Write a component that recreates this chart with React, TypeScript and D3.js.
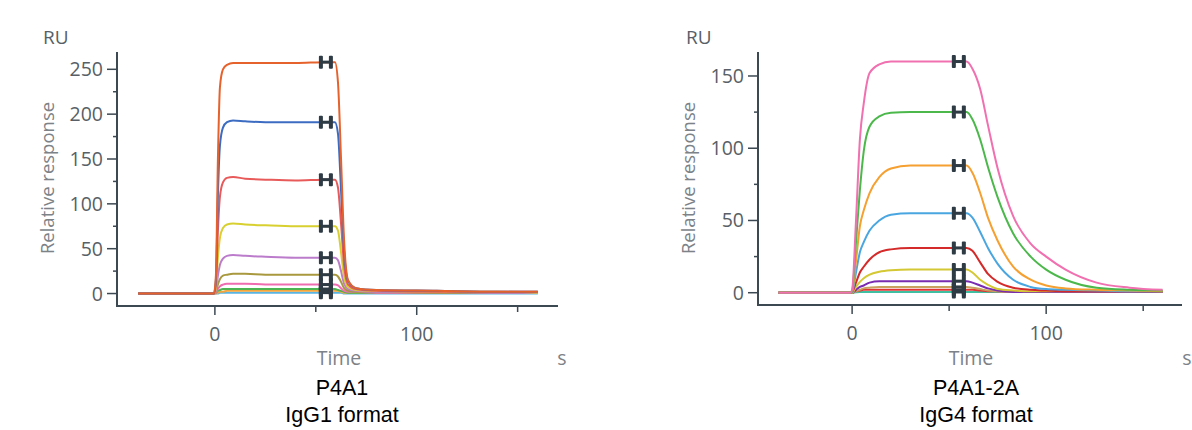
import React from "react";
import * as d3 from "d3";

// ---------- DATA ----------
// Left panel: P4A1 (IgG1) sensorgram, time (s)
const timeL = [-38, -0.5, 0.5, 1.5, 2.5, 4, 6, 9, 15, 25, 40, 55, 59.5, 61, 62.5, 64, 66, 70, 80, 110, 140, 160];
const seriesL: { name: string; color: string; values: number[] }[] = [
  { name: "c10", color: "#5ab4e2", values: [0, 0, 0, 0, 1, 1, 1, 1, 1, 1, 1, 1, 1, 1, 1, 0, 0, 0, 0, 0, 0, 0] },
  { name: "c9", color: "#f2a63c", values: [0, 0, 0, 1, 2, 2, 3, 3, 3, 3, 3, 3, 3, 3, 2, 1, 1, 1, 1, 1, 1, 1] },
  { name: "c8", color: "#4cb450", values: [0, 0, 1, 3, 4, 5, 5, 5, 5, 5, 5, 5, 5, 4, 3, 2, 1, 1, 1, 1, 1, 1] },
  { name: "c7", color: "#f06cb0", values: [0, 0, 1, 5, 8, 10, 11, 11, 11, 10, 10, 10, 10, 9, 6, 3, 2, 2, 1, 1, 1, 1] },
  { name: "c6", color: "#a8983e", values: [0, 0, 2, 10, 16, 20, 21, 22, 22, 21, 21, 21, 21, 19, 13, 6, 3, 2, 2, 1, 1, 1] },
  { name: "c5", color: "#bc7ccc", values: [0, 0, 3, 20, 32, 39, 42, 43, 42, 41, 40, 40, 40, 37, 25, 11, 5, 3, 2, 2, 1, 1] },
  { name: "c4", color: "#d8d030", values: [0, 0, 6, 40, 62, 73, 77, 78, 77, 76, 75, 75, 75, 70, 46, 19, 7, 4, 3, 2, 2, 1] },
  { name: "c3", color: "#e85a5a", values: [0, 0, 10, 70, 108, 124, 129, 130, 128, 127, 126, 127, 127, 118, 78, 32, 10, 5, 3, 2, 2, 2] },
  { name: "c2", color: "#3c6cc2", values: [0, 0, 15, 110, 165, 185, 191, 193, 192, 191, 191, 191, 191, 178, 115, 48, 14, 6, 4, 3, 2, 2] },
  { name: "c1", color: "#e6622c", values: [0, 0, 20, 150, 230, 250, 255, 257, 257, 257, 257, 258, 258, 235, 150, 60, 15, 6, 4, 3, 2, 2] },
];

// Right panel: P4A1-2A (IgG4) sensorgram
const timeR = [-38, -1, 0, 2, 4, 6, 9, 14, 20, 30, 45, 55, 59, 62, 66, 70, 75, 83, 92, 100, 110, 126, 143, 160];
const seriesR: { name: string; color: string; values: number[] }[] = [
  { name: "c10", color: "#40c0a0", values: [0, 0, 0, 0.3, 0.5, 0.5, 0.5, 0.5, 0.5, 0.5, 0.5, 0.5, 0.5, 0.5, 0.5, 0.5, 0.5, 0.5, 0.5, 0.5, 0.5, 0.5, 0.5, 0.5] },
  { name: "c9", color: "#e03434", values: [0, 0, 0, 1, 1.5, 2, 2, 2, 2, 2, 2, 2, 2, 2, 1.5, 1, 1, 0.5, 0.5, 0.5, 0.5, 0.5, 0.5, 0.5] },
  { name: "c8", color: "#c8a060", values: [0, 0, 0, 1, 2, 3, 3.5, 4, 4, 4, 4, 4, 4, 3.5, 2.5, 1.5, 1, 0.5, 0.5, 0.5, 0.5, 0.5, 0.5, 0.5] },
  { name: "c7", color: "#7a2cb0", values: [0, 0, 0, 2, 4, 5, 7, 8, 8, 8, 8, 8, 8, 7, 5, 3, 1.5, 0.5, 0.5, 0.5, 0.5, 0.5, 0.5, 0.5] },
  { name: "c6", color: "#d4c834", values: [0, 0, 0, 4, 7.5, 10, 12.5, 14.5, 15.5, 16, 16, 16, 16, 14, 9, 5.5, 2.5, 1.5, 1, 1, 1, 1, 1, 1] },
  { name: "c5", color: "#d42a2a", values: [0, 0, 0.5, 7, 14, 18, 23, 28, 30, 31, 31, 31, 31, 29, 21, 13, 7.5, 3.5, 2, 1.5, 1, 1, 1, 1] },
  { name: "c4", color: "#4aa6e0", values: [0, 0, 0.5, 14, 28, 35, 43, 50, 54, 55, 55, 55, 55, 52, 42, 31, 20, 9, 4, 2.5, 2, 1.5, 1, 1] },
  { name: "c3", color: "#f5a030", values: [0, 0, 1, 22, 46, 57, 69, 80, 86, 88, 88, 88, 88, 83, 69, 52, 36, 18, 9, 5, 3, 2, 1.5, 1] },
  { name: "c2", color: "#4cb84c", values: [0, 0, 1, 35, 71, 98, 115, 122, 124.5, 125, 125, 125, 125, 120, 106, 87, 66, 41, 25, 16, 9, 3.5, 2, 1.5] },
  { name: "c1", color: "#f070b0", values: [0, 0, 2, 50, 106, 131, 152, 158, 160, 160, 160, 160, 160, 155, 141, 116, 86, 53, 34, 25, 16, 7, 3.5, 2] },
];

const markerTime = 55;
const yTicksL = [0, 50, 100, 150, 200, 250];
const yMinorL = [25, 75, 125, 175, 225];
const yTicksR = [0, 50, 100, 150];
const yMinorR = [25, 75, 125];
const xTicks = [0, 100];
const xMinor = [50, 150];
const titlesL = ["P4A1", "IgG1 format"];
const titlesR = ["P4A1-2A", "IgG4 format"];

// ---------- LAYOUT ----------
type Panel = {
  times: number[];
  series: { name: string; color: string; values: number[] }[];
  xDomain: [number, number];
  xRange: [number, number];
  yDomain: [number, number];
  yRange: [number, number];
  yTicks: number[];
  yMinor: number[];
  titles: string[];
  titleX: number;
  ylabelX: number;
  ruX: number;
  timeX: number;
  sX: number;
};

const panels: Panel[] = [
  {
    times: timeL, series: seriesL,
    xDomain: [-48.5, 170], xRange: [117, 558],
    yDomain: [-13.9, 269.3], yRange: [306, 52],
    yTicks: yTicksL, yMinor: yMinorL, titles: titlesL,
    titleX: 342, ylabelX: 47.5, ruX: 43, timeX: 339, sX: 562,
  },
  {
    times: timeR, series: seriesR,
    xDomain: [-48.5, 170], xRange: [758, 1182],
    yDomain: [-8.5, 166.6], yRange: [305, 52],
    yTicks: yTicksR, yMinor: yMinorR, titles: titlesR,
    titleX: 976, ylabelX: 689, ruX: 686, timeX: 971, sX: 1187,
  },
];

const AXIS = "#3c4852";
const TICKTXT = "#585f66";
const LABELTXT = "#7c8287";
const MARK = "#2e3a44";
const FONT = "'Open Sans', 'DejaVu Sans', sans-serif";

function HMarker({ x, y }: { x: number; y: number }) {
  return (
    <g transform={`translate(${x},${y})`} fill={MARK}>
      <rect x={-7} y={-6.5} width={4} height={13} rx={1} />
      <rect x={3} y={-6.5} width={4} height={13} rx={1} />
      <rect x={-4} y={-1.5} width={8} height={3} />
    </g>
  );
}

function PanelView({ p }: { p: Panel }) {
  const x = d3.scaleLinear().domain(p.xDomain).range(p.xRange);
  const y = d3.scaleLinear().domain(p.yDomain).range(p.yRange);
  const line = d3
    .line<[number, number]>()
    .x((d) => x(d[0]))
    .y((d) => y(d[1]))
    .curve(d3.curveMonotoneX);
  const x0 = p.xRange[0];
  const y0 = p.yRange[0];
  const mi = p.times.indexOf(markerTime);
  return (
    <g>
      {/* curves */}
      {p.series.map((s) => (
        <path
          key={s.name}
          d={line(p.times.map((t, i) => [t, s.values[i]] as [number, number])) || ""}
          fill="none"
          stroke={s.color}
          strokeWidth={2}
          strokeLinejoin="round"
        />
      ))}
      {/* markers */}
      {p.series.map((s) => (
        <HMarker key={"m" + s.name} x={x(markerTime)} y={y(s.values[mi])} />
      ))}
      {/* axes */}
      <line x1={x0} x2={x0} y1={p.yRange[1]} y2={y0} stroke={AXIS} strokeWidth={2} />
      <line x1={x0 - 1} x2={p.xRange[1]} y1={y0} y2={y0} stroke={AXIS} strokeWidth={2} />
      {p.yTicks.map((t) => (
        <g key={"yt" + t}>
          <line x1={x0 - 10} x2={x0} y1={y(t)} y2={y(t)} stroke={AXIS} strokeWidth={1.5} />
          <text x={x0 - 14} y={y(t)} dy="0.36em" textAnchor="end" fontSize={19.5} fill={TICKTXT} fontFamily={FONT}>
            {t}
          </text>
        </g>
      ))}
      {p.yMinor.map((t) => (
        <line key={"ym" + t} x1={x0 - 4} x2={x0} y1={y(t)} y2={y(t)} stroke={AXIS} strokeWidth={1.5} />
      ))}
      {xTicks.map((t) => (
        <g key={"xt" + t}>
          <line x1={x(t)} x2={x(t)} y1={y0} y2={y0 + 9} stroke={AXIS} strokeWidth={1.5} />
          <text x={x(t)} y={y0 + 35} textAnchor="middle" fontSize={19.5} fill={TICKTXT} fontFamily={FONT}>
            {t}
          </text>
        </g>
      ))}
      {xMinor.map((t) => (
        <line key={"xm" + t} x1={x(t)} x2={x(t)} y1={y0 + 1} y2={y0 + 6} stroke={AXIS} strokeWidth={1.5} />
      ))}
      {/* axis labels */}
      <text x={p.ruX} y={44} fontSize={19} fill={TICKTXT} fontFamily={FONT}>RU</text>
      <text
        transform={`translate(${p.ylabelX + 6},178) rotate(-90)`}
        textAnchor="middle"
        fontSize={18.5}
        fill={LABELTXT}
        fontFamily={FONT}
      >
        Relative response
      </text>
      <text x={p.timeX} y={365} textAnchor="middle" fontSize={19.5} fill={LABELTXT} fontFamily={FONT}>Time</text>
      <text x={p.sX} y={365} textAnchor="middle" fontSize={19.5} fill={LABELTXT} fontFamily={FONT}>s</text>
      {/* titles */}
      <text x={p.titleX} y={395} textAnchor="middle" fontSize={21.5} fill="#000" fontFamily="'Liberation Sans', Arial, sans-serif">
        {p.titles[0]}
      </text>
      <text x={p.titleX} y={421.5} textAnchor="middle" fontSize={21.5} fill="#000" fontFamily="'Liberation Sans', Arial, sans-serif">
        {p.titles[1]}
      </text>
    </g>
  );
}

export default function App() {
  return (
    <svg
      width={1192}
      height={430}
      style={{ position: "absolute", left: 0, top: 0, background: "#fff" }}
    >
      {panels.map((p, i) => (
        <PanelView key={i} p={p} />
      ))}
    </svg>
  );
}
